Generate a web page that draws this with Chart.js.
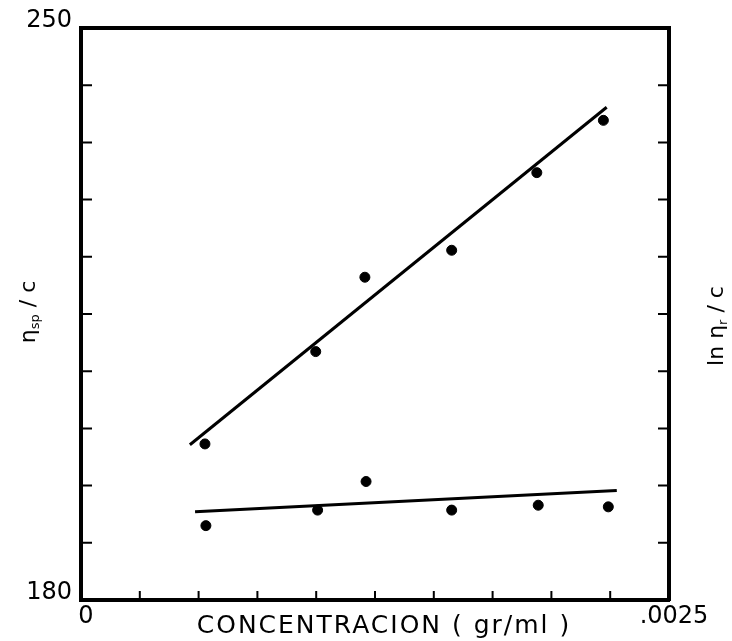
<!DOCTYPE html>
<html>
<head>
<meta charset="utf-8">
<script src="https://cdn.jsdelivr.net/npm/chart.js@4.4.1/dist/chart.umd.min.js"></script>
<style>
  html, body { margin: 0; padding: 0; background: #fff; }
</style>
</head>
<body>
<canvas id="grafico" width="732" height="641"></canvas>
<script>
// ===== valores =====
const concSp = [0.000527, 0.000998, 0.001207, 0.001576, 0.001938, 0.002221];
const etaSpC = [199.1, 210.4, 219.5, 222.8, 232.3, 238.7];

const concLn = [0.000531, 0.001006, 0.001212, 0.001576, 0.001944, 0.002242];
const lnEtaRC = [189.1, 191.0, 194.5, 191.0, 191.6, 191.4];

// rectas trazadas a mano (extremos)
const rectaSpX = [0.000463, 0.002235];
const rectaSpY = [199.0, 240.3];
const rectaLnX = [0.000485, 0.002278];
const rectaLnY = [190.8, 193.4];

// ejes
const limitesX = [0, 0.0025];
const pasoX = 0.00025;
const limitesY = [180, 250];
const pasoY = 7;
const etiquetasX = ["0", ".0025"];
const etiquetasY = ["180", "250"];

const FUENTE = "'DejaVu Sans', sans-serif";

function aPuntos(xs, ys) {
  return xs.map((x, i) => ({ x: x, y: ys[i] }));
}

// ===== titulos verticales con subindices =====
function textoVertical(ctx, x, y, partes, tam) {
  ctx.save();
  ctx.translate(x, y);
  ctx.rotate(-Math.PI / 2);
  ctx.fillStyle = "#000";
  ctx.textBaseline = "middle";
  ctx.textAlign = "left";
  const fuenteDe = (p) => (p.sub ? Math.round(tam * 0.6) : tam) + "px " + FUENTE;
  let total = 0;
  partes.forEach((p) => {
    ctx.font = fuenteDe(p);
    total += ctx.measureText(p.t).width;
  });
  let cx = -total / 2;
  partes.forEach((p) => {
    ctx.font = fuenteDe(p);
    ctx.fillText(p.t, cx, p.sub ? tam * 0.3 : 0);
    cx += ctx.measureText(p.t).width;
  });
  ctx.restore();
}

// marcas hacia adentro del marco, en las posiciones de cada escala
function marcas(ctx, escala, lado, largo) {
  const area = escala.chart.chartArea;
  ctx.save();
  ctx.strokeStyle = "#000";
  ctx.lineWidth = 2;
  ctx.beginPath();
  escala.ticks.forEach((t) => {
    if (t.value <= escala.min + 1e-9 || t.value >= escala.max - 1e-9) return;
    const p = escala.getPixelForValue(t.value);
    if (lado === "izq") { ctx.moveTo(area.left + 2, p); ctx.lineTo(area.left + 2 + largo, p); }
    if (lado === "der") { ctx.moveTo(area.right - 2, p); ctx.lineTo(area.right - 2 - largo, p); }
    if (lado === "abajo") { ctx.moveTo(p, area.bottom - 2); ctx.lineTo(p, area.bottom - 2 - largo); }
  });
  ctx.stroke();
  ctx.restore();
}

const decorado = {
  id: "decorado",
  afterDraw(chart) {
    const ctx = chart.ctx;
    const area = chart.chartArea;
    marcas(ctx, chart.scales.y, "izq", 9);
    marcas(ctx, chart.scales.yDerecha, "der", 9);
    marcas(ctx, chart.scales.x, "abajo", 7);

    const medio = (area.top + area.bottom) / 2;
    textoVertical(ctx, 29, medio - 2, [
      { t: "\u03b7" }, { t: "sp", sub: true }, { t: " / c" }
    ], 22);
    textoVertical(ctx, 717, medio + 12, [
      { t: "ln \u03b7" }, { t: "r", sub: true }, { t: " / c" }
    ], 22);

    // titulo del eje X, con letras espaciadas
    ctx.save();
    ctx.fillStyle = "#000";
    ctx.font = "25px " + FUENTE;
    ctx.textAlign = "center";
    ctx.textBaseline = "alphabetic";
    ctx.letterSpacing = "2px";
    ctx.fillText("CONCENTRACION ( gr/ml )", 384, 633);
    ctx.restore();
  },
};

// ===== grafico =====
function crearGrafico() {
  const ctx = document.getElementById("grafico").getContext("2d");

  const sinRejilla = { drawOnChartArea: false, drawTicks: false };
  const borde = { display: true, width: 4, color: "#000" };

  new Chart(ctx, {
    type: "scatter",
    data: {
      datasets: [
        {
          label: "recta sp",
          data: aPuntos(rectaSpX, rectaSpY),
          showLine: true,
          borderColor: "#000",
          borderWidth: 3,
          pointRadius: 0,
        },
        {
          label: "recta ln",
          data: aPuntos(rectaLnX, rectaLnY),
          showLine: true,
          borderColor: "#000",
          borderWidth: 3,
          pointRadius: 0,
        },
        {
          label: "\u03b7sp/c",
          data: aPuntos(concSp, etaSpC),
          pointRadius: 5,
          pointBackgroundColor: "#000",
          pointBorderColor: "#000",
        },
        {
          label: "ln \u03b7r/c",
          data: aPuntos(concLn, lnEtaRC),
          pointRadius: 5,
          pointBackgroundColor: "#000",
          pointBorderColor: "#000",
        },
      ],
    },
    options: {
      responsive: false,
      animation: false,
      layout: { padding: 0 },
      plugins: {
        legend: { display: false },
        tooltip: { enabled: false },
      },
      scales: {
        x: {
          type: "linear",
          position: "bottom",
          min: limitesX[0],
          max: limitesX[1],
          afterFit: (s) => { s.height = 41; },
          grid: sinRejilla,
          border: borde,
          ticks: {
            stepSize: pasoX,
            autoSkip: false,
            maxRotation: 0,
            color: "#000",
            padding: 2,
            labelOffset: 5,
            font: { family: FUENTE, size: 24 },
            callback: (v) => {
              if (Math.abs(v - limitesX[0]) < 1e-9) return etiquetasX[0];
              if (Math.abs(v - limitesX[1]) < 1e-9) return etiquetasX[1];
              return "";
            },
          },
        },
        xArriba: {
          type: "linear",
          position: "top",
          min: limitesX[0],
          max: limitesX[1],
          afterFit: (s) => { s.height = 28; },
          grid: sinRejilla,
          border: borde,
          ticks: { display: false },
        },
        y: {
          type: "linear",
          position: "left",
          min: limitesY[0],
          max: limitesY[1],
          afterFit: (s) => { s.width = 81; },
          grid: sinRejilla,
          border: borde,
          ticks: {
            stepSize: pasoY,
            autoSkip: false,
            color: "#000",
            padding: 9,
            labelOffset: -7,
            font: { family: FUENTE, size: 24 },
            callback: (v) => {
              if (Math.abs(v - limitesY[0]) < 1e-9) return etiquetasY[0];
              if (Math.abs(v - limitesY[1]) < 1e-9) return etiquetasY[1];
              return "";
            },
          },
        },
        yDerecha: {
          type: "linear",
          position: "right",
          min: limitesY[0],
          max: limitesY[1],
          afterFit: (s) => { s.width = 63; },
          grid: sinRejilla,
          border: borde,
          ticks: {
            stepSize: pasoY,
            autoSkip: false,
            padding: 0,
            callback: () => "",
          },
        },
      },
    },
    plugins: [decorado],
  });
}

document.addEventListener("DOMContentLoaded", function () {
  crearGrafico();
});
</script>
</body>
</html>
